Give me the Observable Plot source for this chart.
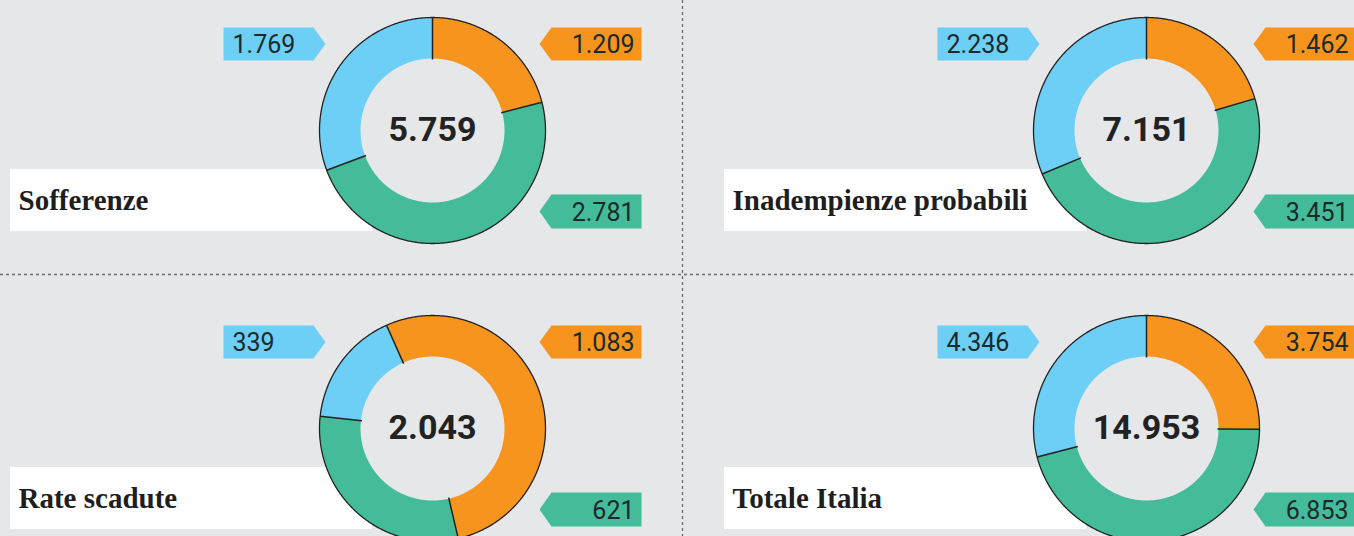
<!DOCTYPE html>
<html>
<head>
<meta charset="utf-8">
<script src="https://cdn.jsdelivr.net/npm/d3@7"></script>
<script src="https://cdn.jsdelivr.net/npm/@observablehq/plot@0.6"></script>
<style>
  html, body { margin: 0; padding: 0; background: #e6e7e9; }
  #chart { width: 1354px; height: 536px; overflow: hidden; }
</style>
</head>
<body>
<div id="chart"></div>
<script>
// ---------- DATA ----------
const categories = ["Sofferenze", "Inadempienze probabili", "Rate scadute", "Totale Italia"];
const totals = [5759, 7151, 2043, 14953];
const orangeValues = [1209, 1462, 1083, 3754];
const greenValues = [2781, 3451, 621, 6853];
const blueValues = [1769, 2238, 339, 4346];
const startAngles = [0, 0, -24, 0]; // degrees, clockwise from top

const seriesNames = ["orange", "green", "blue"];
const seriesValues = {orange: orangeValues, green: greenValues, blue: blueValues};
const seriesColors = {orange: "#f7941e", green: "#44bc9a", blue: "#6dcff6"};

// ---------- LAYOUT ----------
const W = 1354, H = 536;
const panelDX = 714, panelDY = 298;
const cxRel = 432, cyRel = 130, rOuter = 113, rInner = 72;
const boxes = {
  blue:   {side: "left",  x0: 223, x1: 313, xp: 325, y0: 27,  y1: 60},
  orange: {side: "right", x0: 551, x1: 641, xp: 539, y0: 27,  y1: 60},
  green:  {side: "right", x0: 551, x1: 641, xp: 539, y0: 194, y1: 228}
};
const titleBox = {x0: 10, x1: 372, y0: 169, y1: 231, tx: 18, ty: 209};

const fmt = d3.formatLocale({decimal: ",", thousands: ".", grouping: [3], currency: ["", "€"]}).format(",d");
const rad = (deg) => deg * Math.PI / 180;

const panels = categories.map((name, i) => ({
  name, i,
  ox: (i % 2) * panelDX,
  oy: Math.floor(i / 2) * panelDY,
  total: totals[i],
  start: startAngles[i]
}));

// slice polygons, outer ring, boundaries
const slicePts = [];
const ringPts = [];
const boundaries = [];
for (const p of panels) {
  const cx = p.ox + cxRel, cy = p.oy + cyRel;
  const sum = d3.sum(seriesNames, s => seriesValues[s][p.i]);
  let a = p.start;
  for (const s of seriesNames) {
    const v = seriesValues[s][p.i];
    const a0 = a, a1 = a + v / sum * 360;
    const n = Math.max(2, Math.ceil((a1 - a0) / 0.5));
    const key = p.name + "|" + s;
    const outer = [], inner = [];
    for (let k = 0; k <= n; k++) {
      const t = rad(a0 + (a1 - a0) * k / n);
      outer.push({key, series: s, x: cx + rOuter * Math.sin(t), y: cy - rOuter * Math.cos(t)});
      inner.push({key, series: s, x: cx + rInner * Math.sin(t), y: cy - rInner * Math.cos(t)});
    }
    slicePts.push(...outer, ...inner.reverse(), outer[0]);
    boundaries.push({
      x1: cx + (rInner - 1) * Math.sin(rad(a0)), y1: cy - (rInner - 1) * Math.cos(rad(a0)),
      x2: cx + rOuter * Math.sin(rad(a0)), y2: cy - rOuter * Math.cos(rad(a0))
    });
    a = a1;
  }
  for (let k = 0; k <= 720; k++) {
    const t = rad(k / 2);
    ringPts.push({panel: p.name, x: cx + rOuter * Math.sin(t), y: cy - rOuter * Math.cos(t)});
  }
}

// label boxes (arrow shapes) and texts
const boxPts = [];
const boxLabels = [];
for (const p of panels) {
  for (const s of seriesNames) {
    const b = boxes[s];
    const key = p.name + "|" + s;
    const ym = (b.y0 + b.y1) / 2;
    const pts = b.side === "left"
      ? [[b.x0, b.y0], [b.x1, b.y0], [b.xp, ym], [b.x1, b.y1], [b.x0, b.y1], [b.x0, b.y0]]
      : [[b.xp, ym], [b.x0, b.y0], [b.x1, b.y0], [b.x1, b.y1], [b.x0, b.y1], [b.xp, ym]];
    for (const [x, y] of pts) boxPts.push({key, series: s, x: p.ox + x, y: p.oy + y});
    boxLabels.push({
      series: s,
      side: b.side,
      text: fmt(seriesValues[s][p.i]),
      x: p.ox + (b.side === "left" ? b.x0 + 9 : b.x1 - 7),
      y: p.oy + ym + 1
    });
  }
}

const fillBy = (s) => seriesColors[s];
const labelStyle = {x: "x", y: "y", text: "text", lineAnchor: "middle",
  fontFamily: "Roboto", fontSize: 25, fill: "#1b2a2a"};

const chart = Plot.plot({
  width: W, height: H,
  margin: 0,
  x: {domain: [0, W], range: [0, W], axis: null},
  y: {domain: [0, H], range: [0, H], axis: null},
  style: {background: "#e6e7e9", overflow: "hidden"},
  marks: [
    // dotted separators
    Plot.ruleY([274], {stroke: "#6b6b6b", strokeWidth: 1.3, strokeDasharray: "3,3"}),
    Plot.ruleX([682], {stroke: "#6b6b6b", strokeWidth: 1.3, strokeDasharray: "3,3"}),
    // white title boxes
    Plot.rect(panels, {
      x1: d => d.ox + titleBox.x0, x2: d => d.ox + titleBox.x1,
      y1: d => d.oy + titleBox.y0, y2: d => d.oy + titleBox.y1,
      fill: "white"
    }),
    Plot.text(panels, {
      x: d => d.ox + titleBox.tx, y: d => d.oy + titleBox.ty,
      text: "name", textAnchor: "start", lineAnchor: "bottom",
      fontFamily: "Liberation Serif", fontWeight: "bold", fontSize: 29, fill: "#1e1e1e"
    }),
    // donut slices
    ...seriesNames.map(s => Plot.line(slicePts.filter(d => d.series === s), {
      x: "x", y: "y", z: "key", fill: fillBy(s), stroke: "none", curve: "linear"
    })),
    // outer ring outline
    Plot.line(ringPts, {x: "x", y: "y", z: "panel", stroke: "#222", strokeWidth: 1.3, fill: "none"}),
    // slice boundaries
    Plot.link(boundaries, {x1: "x1", y1: "y1", x2: "x2", y2: "y2", stroke: "#222", strokeWidth: 1.5}),
    // totals in center
    Plot.text(panels, {
      x: d => d.ox + cxRel, y: d => d.oy + cyRel,
      text: d => fmt(d.total), textAnchor: "middle", lineAnchor: "middle",
      fontFamily: "Roboto", fontWeight: "bold", fontSize: 34, fill: "#222"
    }),
    // label arrow boxes
    ...seriesNames.map(s => Plot.line(boxPts.filter(d => d.series === s), {
      x: "x", y: "y", z: "key", fill: fillBy(s), stroke: "none", curve: "linear"
    })),
    Plot.text(boxLabels.filter(d => d.side === "left"), {...labelStyle, textAnchor: "start"}),
    Plot.text(boxLabels.filter(d => d.side === "right"), {...labelStyle, textAnchor: "end"})
  ]
});

document.getElementById("chart").appendChild(chart);
</script>
</body>
</html>
